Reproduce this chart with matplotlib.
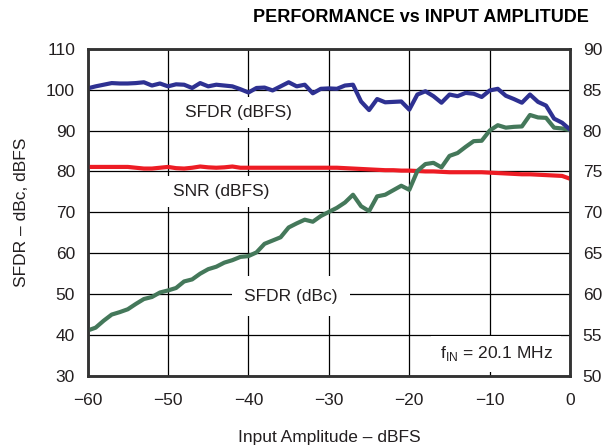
import matplotlib
matplotlib.use("Agg")
import matplotlib.pyplot as plt
import numpy as np

plt.rcParams["font.family"] = ["Liberation Sans", "DejaVu Sans"]

# Input amplitude sweep (dBFS)
amplitude = np.arange(-60, 1, 1)

sfdr_dbfs = [100.3, 100.8, 101.2, 101.6, 101.5, 101.5, 101.6, 101.8, 101.0, 101.5,
             100.8, 101.3, 101.2, 100.4, 101.6, 100.8, 101.2, 101.0, 100.8, 100.1,
             99.3, 100.4, 100.5, 99.8, 100.8, 101.8, 100.8, 101.2, 99.1, 100.2,
             100.3, 100.2, 101.0, 101.2, 97.1, 95.0, 97.7, 96.9, 97.0, 97.1,
             95.1, 98.8, 99.6, 98.4, 96.8, 98.8, 98.4, 99.2, 99.0, 98.2,
             99.8, 100.2, 98.5, 97.7, 96.8, 98.8, 97.0, 96.1, 92.9, 91.9,
             90.2]

snr_dbfs = [81.1, 81.1, 81.1, 81.1, 81.1, 81.1, 80.9, 80.7, 80.7, 80.9,
            81.1, 80.8, 80.7, 80.9, 81.2, 81.0, 80.9, 81.0, 81.2, 80.9,
            80.9, 80.9, 80.9, 80.9, 80.9, 80.9, 80.9, 80.9, 80.9, 80.9,
            80.9, 80.9, 80.8, 80.7, 80.6, 80.5, 80.4, 80.3, 80.3, 80.2,
            80.2, 80.1, 80.0, 80.0, 79.9, 79.8, 79.8, 79.8, 79.8, 79.8,
            79.7, 79.6, 79.5, 79.4, 79.3, 79.3, 79.2, 79.1, 79.0, 78.9,
            78.2]

sfdr_dbc = [41.1, 41.8, 43.5, 45.0, 45.6, 46.3, 47.6, 48.8, 49.3, 50.4,
            50.9, 51.5, 53.1, 53.6, 55.0, 56.1, 56.7, 57.7, 58.3, 59.1,
            59.3, 60.2, 62.3, 63.1, 63.9, 66.3, 67.3, 68.2, 67.7, 69.1,
            70.1, 71.1, 72.4, 74.3, 71.5, 70.3, 73.9, 74.3, 75.4, 76.5,
            75.5, 80.1, 81.8, 82.1, 81.0, 83.8, 84.5, 86.0, 87.4, 87.5,
            90.0, 91.3, 90.7, 90.9, 91.0, 93.8, 93.2, 93.1, 90.7, 90.5,
            90.1]

x_ticks = [-60, -50, -40, -30, -20, -10, 0]
y_left_ticks = [30, 40, 50, 60, 70, 80, 90, 100, 110]
y_right_ticks = [50, 55, 60, 65, 70, 75, 80, 85, 90]

fig = plt.figure(figsize=(6.04, 4.47), dpi=100)
ax = fig.add_axes([0.145, 0.159, 0.799, 0.732])

blue = "#2e3192"
red = "#ed1c24"
green = "#44785a"
ink = "#231f20"

ax.plot(amplitude, snr_dbfs, color=red, lw=3.0, solid_joinstyle="round", zorder=3)
ax.plot(amplitude, sfdr_dbc, color=green, lw=3.0, solid_joinstyle="round", zorder=3)
ax.plot(amplitude, sfdr_dbfs, color=blue, lw=3.0, solid_joinstyle="round", zorder=4)

ax.set_xlim(-60, 0)
ax.set_ylim(30, 110)
ax.set_xticks(x_ticks)
ax.set_yticks(y_left_ticks)
ax.grid(True, color="black", lw=0.9)
ax.set_axisbelow(True)
ax.tick_params(axis="y", direction="in", length=0, labelsize=12.5, pad=9, colors=ink)
ax.tick_params(axis="x", direction="in", length=0, labelsize=12.5, pad=12, colors=ink)
for s in ax.spines.values():
    s.set_linewidth(1.8)
    s.set_color("#333333")

ax2 = ax.twinx()
ax2.set_ylim(50, 90)
ax2.set_yticks(y_right_ticks)
ax2.tick_params(direction="in", length=0, labelsize=12.5, pad=9, colors=ink)
for s in ax2.spines.values():
    s.set_linewidth(1.8)
    s.set_color("#333333")

ax.set_xlabel("Input Amplitude \u2013 dBFS", fontsize=12.5, labelpad=16, color=ink)
ax.set_ylabel("SFDR \u2013 dBc, dBFS", fontsize=12.5, labelpad=12, color=ink)

fig.text(0.697, 0.960, "PERFORMANCE vs INPUT AMPLITUDE", ha="center", va="center",
         fontsize=13, fontweight="bold", color="black")

box = dict(facecolor="white", edgecolor="none", pad=6)
ax.text(-41.3, 94.4, "SFDR (dBFS)", ha="center", va="center", fontsize=12.5,
        color=ink, bbox=box, zorder=5)
ax.text(-43.4, 75.1, "SNR (dBFS)", ha="center", va="center", fontsize=12.5,
        color=ink, bbox=box, zorder=5)
ax.text(-34.7, 49.5, "SFDR (dBc)", ha="center", va="center", fontsize=12.5,
        color=ink, bbox=dict(facecolor="white", edgecolor="none", pad=9), zorder=5)
ax.text(-9.2, 35.4, r"f$_{\mathregular{IN}}$ = 20.1 MHz", ha="center", va="center",
        fontsize=12.5, color=ink, bbox=box, zorder=5)

fig.savefig("out.png", dpi=100)
